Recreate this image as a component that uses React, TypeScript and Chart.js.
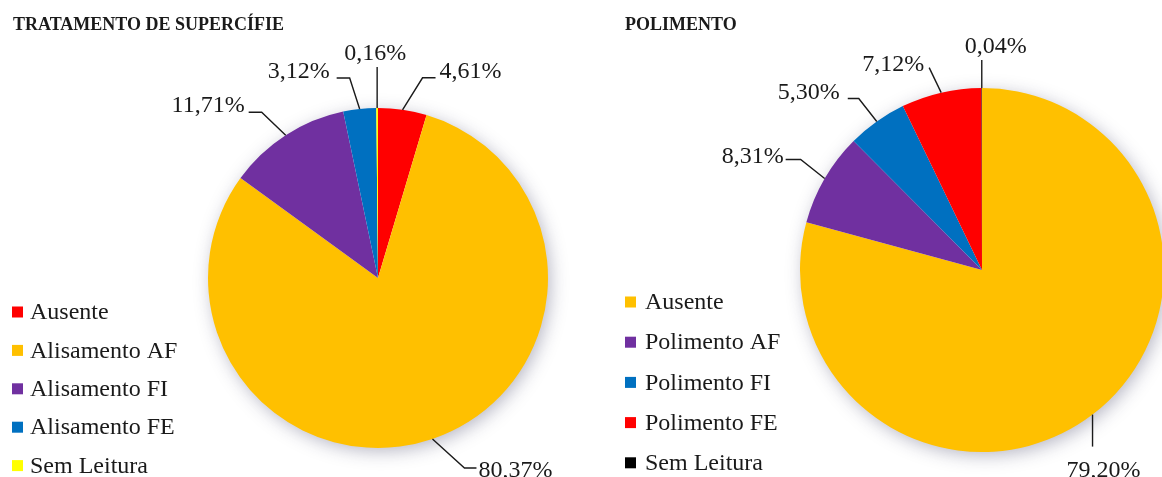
import React, { useEffect, useRef } from 'react';
import { Chart, registerables } from 'chart.js';

Chart.register(...registerables);

// ---------- data ----------
const leftTitle = 'TRATAMENTO DE SUPERCÍFIE';
const leftCategories = ['Ausente', 'Alisamento AF', 'Alisamento FI', 'Alisamento FE', 'Sem Leitura'];
const leftValues = [4.61, 80.37, 11.71, 3.12, 0.16];
const leftColors = ['#FF0000', '#FFC000', '#7030A0', '#0070C0', '#FFFF00'];

const rightTitle = 'POLIMENTO';
const rightCategories = ['Ausente', 'Polimento AF', 'Polimento FI', 'Polimento FE', 'Sem Leitura'];
const rightValues = [79.2, 8.31, 5.3, 7.12, 0.04];
const rightColors = ['#FFC000', '#7030A0', '#0070C0', '#FF0000', '#000000'];

// ---------- layout (positions / styles) ----------
const SERIF = "'Liberation Serif', 'Times New Roman', serif";
const CANVAS_W = 581;
const CANVAS_H = 477;

type Placement = { ex: number; ey: number; tail: number; tx: number; ty: number; align: CanvasTextAlign };

const leftPlacement: Placement[] = [
  { ex: 20, ey: -32, tail: 13, tx: 4, ty: -6, align: 'left' },
  { ex: 32, ey: 29, tail: 12, tx: 2, ty: 3, align: 'left' },
  { ex: -24, ey: -23, tail: -13, tx: -4, ty: -7, align: 'right' },
  { ex: -10, ey: -31, tail: -13, tx: -7, ty: -6, align: 'right' },
  { ex: 0, ey: -41, tail: 0, tx: -2, ty: -13, align: 'center' },
];

const rightPlacement: Placement[] = [
  { ex: 0, ey: 32, tail: 0, tx: 11, ty: 24, align: 'center' },
  { ex: -24, ey: -19, tail: -15, tx: -2, ty: -3, align: 'right' },
  { ex: -18, ey: -23, tail: -11, tx: -8, ty: -6, align: 'right' },
  { ex: -12, ey: -25, tail: 0, tx: -5, ty: -3, align: 'right' },
  { ex: 0, ey: -28, tail: 0, tx: 14, ty: -13, align: 'center' },
];

const fmtPct = (v: number) => v.toFixed(2).replace('.', ',') + '%';

type Cfg = {
  left: number;
  title: string;
  titleX: number;
  categories: string[];
  values: number[];
  colors: string[];
  placement: Placement[];
  radius: number;
  padding: { left: number; right: number; top: number; bottom: number };
  legend: { x: number; y0: number; dy: number; box: number; textX: number };
};

function makeDecorPlugin(cfg: Cfg) {
  return {
    id: 'pieDecor',
    beforeDatasetsDraw(chart: any) {
      const meta = chart.getDatasetMeta(0);
      const arc = meta.data[0];
      if (!arc) return;
      const { x, y, outerRadius } = arc.getProps(['x', 'y', 'outerRadius'], true);
      const ctx = chart.ctx;
      ctx.save();
      ctx.shadowColor = 'rgba(40, 40, 80, 0.35)';
      ctx.shadowBlur = 18;
      ctx.shadowOffsetX = 3;
      ctx.shadowOffsetY = 4;
      ctx.fillStyle = '#ffffff';
      ctx.beginPath();
      ctx.arc(x, y, outerRadius - 1, 0, Math.PI * 2);
      ctx.fill();
      ctx.restore();
    },
    afterDatasetsDraw(chart: any) {
      const ctx = chart.ctx;
      const meta = chart.getDatasetMeta(0);
      ctx.save();
      // title
      ctx.fillStyle = '#1a1a1a';
      ctx.font = `bold 18px ${SERIF}`;
      ctx.textAlign = 'left';
      ctx.textBaseline = 'alphabetic';
      ctx.fillText(cfg.title, cfg.titleX, 30);

      // data labels with leader lines
      ctx.font = `24px ${SERIF}`;
      ctx.textBaseline = 'middle';
      meta.data.forEach((el: any, i: number) => {
        const p = cfg.placement[i];
        const { x, y, startAngle, endAngle, outerRadius } = el.getProps(
          ['x', 'y', 'startAngle', 'endAngle', 'outerRadius'],
          true
        );
        const mid = (startAngle + endAngle) / 2;
        const sx = x + Math.cos(mid) * outerRadius;
        const sy = y + Math.sin(mid) * outerRadius;
        const bx = sx + p.ex;
        const by = sy + p.ey;
        const tx = bx + p.tail;
        ctx.strokeStyle = '#1a1a1a';
        ctx.lineWidth = 1.4;
        ctx.beginPath();
        ctx.moveTo(sx, sy);
        ctx.lineTo(bx, by);
        if (p.tail !== 0) ctx.lineTo(tx, by);
        ctx.stroke();
        ctx.fillStyle = '#1a1a1a';
        ctx.textAlign = p.align;
        ctx.fillText(fmtPct(cfg.values[i]), tx + p.tx, by + p.ty);
      });

      // legend
      const lg = cfg.legend;
      ctx.font = `24px ${SERIF}`;
      ctx.textAlign = 'left';
      ctx.textBaseline = 'middle';
      cfg.categories.forEach((name, i) => {
        const cy = lg.y0 + i * lg.dy;
        ctx.fillStyle = cfg.colors[i];
        ctx.fillRect(lg.x, cy - lg.box / 2, lg.box, lg.box);
        ctx.fillStyle = '#1a1a1a';
        ctx.fillText(name, lg.textX, cy + 1);
      });
      ctx.restore();
    },
  };
}

function PieChart({ cfg }: { cfg: Cfg }) {
  const ref = useRef<HTMLCanvasElement | null>(null);
  useEffect(() => {
    if (!ref.current) return;
    const chart = new Chart(ref.current, {
      type: 'pie',
      data: {
        labels: cfg.categories,
        datasets: [
          {
            data: cfg.values,
            backgroundColor: cfg.colors,
            borderWidth: 0,
            radius: cfg.radius,
            clip: false,
          } as any,
        ],
      },
      options: {
        responsive: false,
        animation: false,
        events: [],
        devicePixelRatio: 1,
        layout: { padding: cfg.padding },
        plugins: {
          legend: { display: false },
          tooltip: { enabled: false },
          title: { display: false },
        },
      },
      plugins: [makeDecorPlugin(cfg)],
    });
    return () => chart.destroy();
  }, []);
  return (
    <canvas
      ref={ref}
      width={CANVAS_W}
      height={CANVAS_H}
      style={{ position: 'absolute', left: cfg.left, top: 0, width: CANVAS_W, height: CANVAS_H }}
    />
  );
}

const leftCfg: Cfg = {
  left: 0,
  title: leftTitle,
  titleX: 13,
  categories: leftCategories,
  values: leftValues,
  colors: leftColors,
  placement: leftPlacement,
  radius: 170,
  padding: { left: 208, right: 33, top: 108, bottom: 29 },
  legend: { x: 12, y0: 312, dy: 38.4, box: 11, textX: 30 },
};

const rightCfg: Cfg = {
  left: 581,
  title: rightTitle,
  titleX: 44,
  categories: rightCategories,
  values: rightValues,
  colors: rightColors,
  placement: rightPlacement,
  radius: 182,
  padding: { left: 221, right: 0, top: 90, bottom: 27 },
  legend: { x: 44, y0: 302, dy: 40.2, box: 11, textX: 64 },
};

export default function App() {
  return (
    <div
      style={{
        position: 'fixed',
        left: 0,
        top: 0,
        width: 1162,
        height: 477,
        background: '#ffffff',
        overflow: 'hidden',
      }}
    >
      <PieChart cfg={leftCfg} />
      <PieChart cfg={rightCfg} />
    </div>
  );
}
